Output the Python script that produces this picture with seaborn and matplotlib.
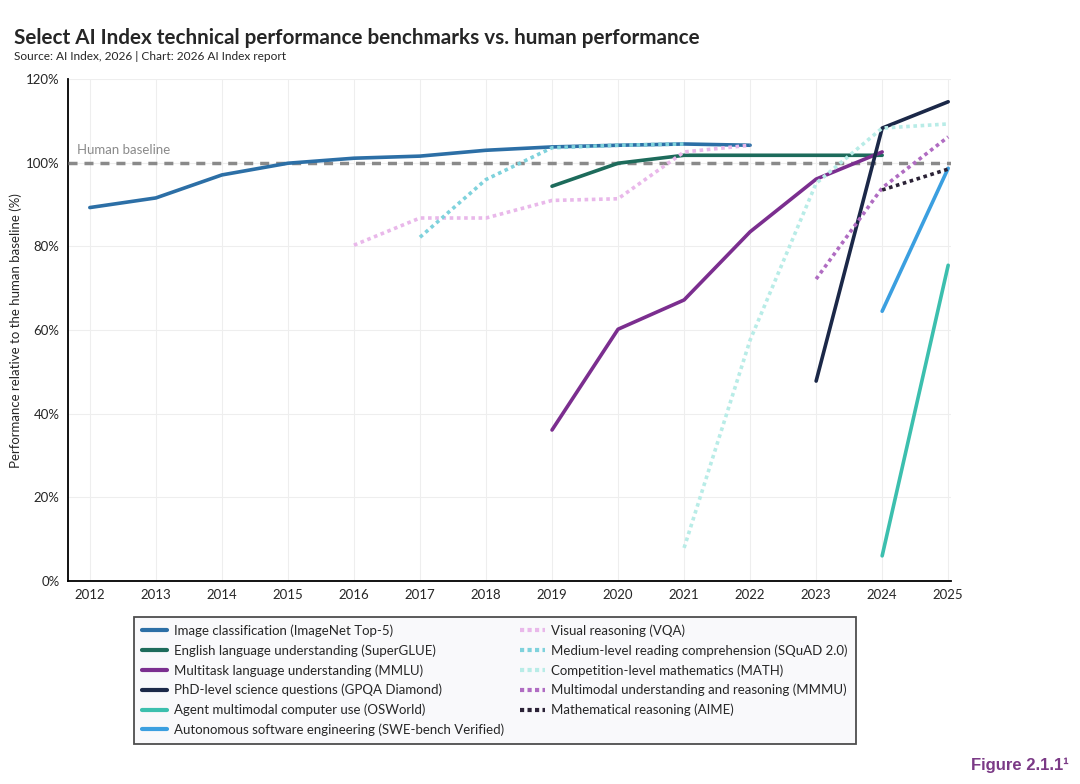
import pandas as pd
import matplotlib.pyplot as plt
import seaborn as sns
from matplotlib.lines import Line2D

# values (% of human baseline)
imagenet_years = [2012, 2013, 2014, 2015, 2016, 2017, 2018, 2019, 2020, 2021, 2022]
imagenet = [89.3, 91.6, 97.1, 99.9, 101.1, 101.6, 103.0, 103.8, 104.2, 104.5, 104.2]
superglue_years = [2019, 2020, 2021, 2022, 2023, 2024]
superglue = [94.4, 99.9, 101.8, 101.8, 101.8, 101.8]
mmlu_years = [2019, 2020, 2021, 2022, 2023, 2024]
mmlu = [36.1, 60.2, 67.2, 83.5, 96.1, 102.6]
gpqa_years = [2023, 2024, 2025]
gpqa = [47.8, 108.3, 114.6]
osworld_years = [2024, 2025]
osworld = [6.0, 75.5]
swe_years = [2024, 2025]
swe = [64.5, 98.7]
vqa_years = [2016, 2017, 2018, 2019, 2020, 2021, 2022]
vqa = [80.3, 86.8, 86.8, 91.0, 91.4, 102.6, 104.2]
squad_years = [2017, 2018, 2019, 2020, 2021]
squad = [82.2, 96.0, 103.6, 104.2, 104.5]
math_years = [2021, 2022, 2023, 2024, 2025]
math_vals = [7.9, 57.6, 95.1, 108.3, 109.3]
mmmu_years = [2023, 2024, 2025]
mmmu = [72.2, 94.0, 106.2]
aime_years = [2024, 2025]
aime = [93.5, 98.5]

labels = [
    "Image classification (ImageNet Top-5)",
    "English language understanding (SuperGLUE)",
    "Multitask language understanding (MMLU)",
    "PhD-level science questions (GPQA Diamond)",
    "Agent multimodal computer use (OSWorld)",
    "Autonomous software engineering (SWE-bench Verified)",
    "Visual reasoning (VQA)",
    "Medium-level reading comprehension (SQuAD 2.0)",
    "Competition-level mathematics (MATH)",
    "Multimodal understanding and reasoning (MMMU)",
    "Mathematical reasoning (AIME)",
]
series = [
    (imagenet_years, imagenet), (superglue_years, superglue), (mmlu_years, mmlu),
    (gpqa_years, gpqa), (osworld_years, osworld), (swe_years, swe),
    (vqa_years, vqa), (squad_years, squad), (math_years, math_vals),
    (mmmu_years, mmmu), (aime_years, aime),
]
colors = ["#2c6fa6", "#1d6b5b", "#7b2e8f", "#1b2848", "#3cbfae", "#3b9fe0",
          "#e9b8ea", "#7fd2dc", "#b8ece7", "#b06cc2", "#2b2236"]
dotted = [False] * 6 + [True] * 5

rows = []
for lab, (yrs, vals) in zip(labels, series):
    for y, v in zip(yrs, vals):
        rows.append({"year": y, "value": v, "bench": lab})
df = pd.DataFrame(rows)

sns.set_style("white")
plt.rcParams['font.family'] = ['Lato', 'DejaVu Sans']

fig = plt.figure(figsize=(10.8, 7.84), dpi=100)
ax = fig.add_axes([0.063, 0.259, 0.818, 0.64])

palette = dict(zip(labels, colors))
dashes = {lab: ((1, 1) if d else "") for lab, d in zip(labels, dotted)}

# human baseline
ax.axhline(100, color="#8a8a8a", lw=2.5, ls=(0, (2.6, 2)), zorder=3)
ax.text(2011.8, 102.2, "Human baseline", color="#8a8a8a", fontsize=9.5)

sns.lineplot(data=df, x="year", y="value", hue="bench", style="bench",
             palette=palette, dashes=dashes, hue_order=labels, style_order=labels,
             linewidth=2.6, legend=False, ax=ax, zorder=4)

ax.set_xlim(2011.67, 2025.05)
ax.set_ylim(0, 120)
ax.set_xticks(range(2012, 2026))
ax.set_yticks(range(0, 121, 20))
ax.set_yticklabels([f"{t}%" for t in range(0, 121, 20)])
ax.tick_params(labelsize=9.5, length=0, pad=6)
ax.grid(True, color="#eeeeee", lw=0.8)
ax.set_axisbelow(True)
for s in ["top", "right"]:
    ax.spines[s].set_visible(False)
for s in ["left", "bottom"]:
    ax.spines[s].set_color("black")
    ax.spines[s].set_linewidth(1.3)
ax.set_xlabel("")
ax.set_ylabel("Performance relative to the human baseline (%)", fontsize=9.5)
ax.yaxis.set_label_coords(-0.052, 0.5)

# legend below the plot, two columns
handles = [Line2D([], [], color=c, lw=3, ls=((0, (1, 0.8)) if d else "-"))
           for c, d in zip(colors, dotted)]
leg = fig.legend(handles, labels, ncol=2, loc="upper left",
                 bbox_to_anchor=(0.118, 0.222), fontsize=9.5, frameon=True,
                 handlelength=1.9, handletextpad=0.5, columnspacing=1.2,
                 labelspacing=0.55, borderpad=0.6, fancybox=False)
leg.get_frame().set_edgecolor("#222222")
leg.get_frame().set_linewidth(1.3)
leg.get_frame().set_facecolor("#f8f8fa")

fig.text(0.013, 0.944, "Select AI Index technical performance benchmarks vs. human performance",
         fontsize=14.9, fontweight="bold")
fig.text(0.013, 0.924, "Source: AI Index, 2026 | Chart: 2026 AI Index report", fontsize=8.6)
fig.text(0.99, 0.018, "Figure 2.1.1\u00b9", fontsize=12, fontweight="bold",
         color="#7b3a86", ha="right", family=["Liberation Sans", "DejaVu Sans"])

fig.savefig("out.png", dpi=100, facecolor="white")
